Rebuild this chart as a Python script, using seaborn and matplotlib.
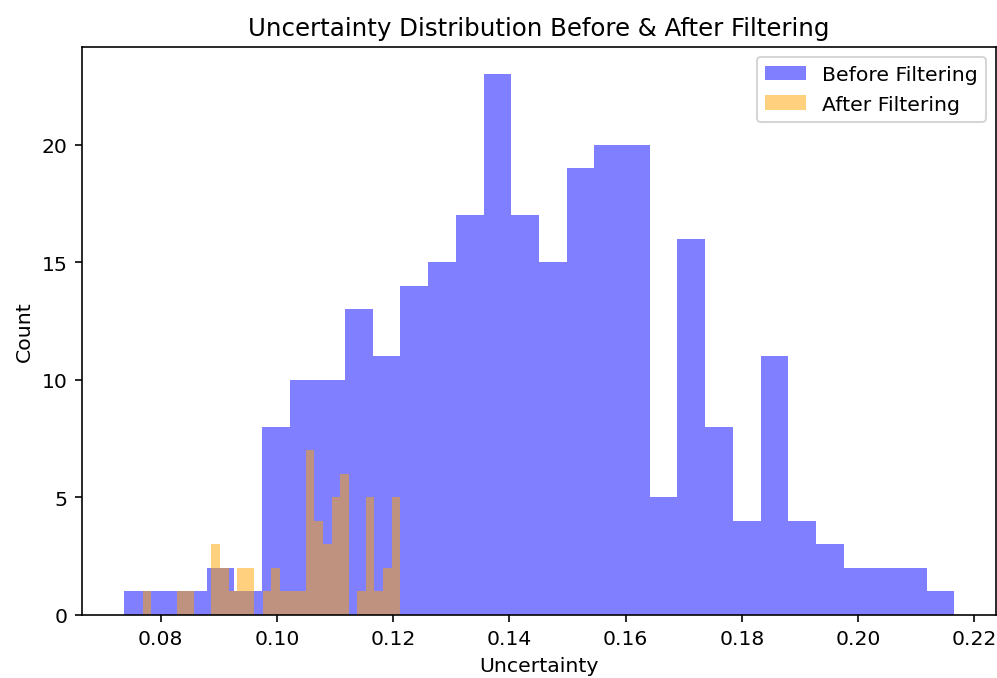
import numpy as np
import seaborn as sns
import matplotlib.pyplot as plt

# histogram counts (30 bins each)
before_counts = [1, 1, 1, 2, 1, 8, 10, 10, 13, 11,
                 14, 15, 17, 23, 17, 15, 19, 20, 20, 5,
                 16, 8, 4, 11, 4, 3, 2, 2, 2, 1]
before_range = (0.07359, 0.21656)

after_counts = [1, 0, 0, 0, 1, 1, 0, 0, 3, 2,
                1, 2, 2, 0, 1, 2, 1, 1, 1, 7,
                4, 3, 5, 6, 0, 1, 5, 1, 2, 5]
after_range = (0.0769, 0.1212)

DPI = 147


def bin_centers(rng, n):
    edges = np.linspace(rng[0], rng[1], n + 1)
    return (edges[:-1] + edges[1:]) / 2


def create_plot():
    fig, ax = plt.subplots(figsize=(997 / DPI, 679 / DPI), dpi=DPI)
    fig.subplots_adjust(left=0.0822, right=0.999, bottom=0.0928, top=0.9293)

    sns.histplot(x=bin_centers(before_range, len(before_counts)), weights=before_counts,
                 bins=len(before_counts), binrange=before_range,
                 color='blue', alpha=0.5, linewidth=0, label='Before Filtering', ax=ax)
    sns.histplot(x=bin_centers(after_range, len(after_counts)), weights=after_counts,
                 bins=len(after_counts), binrange=after_range,
                 color='orange', alpha=0.5, linewidth=0, label='After Filtering', ax=ax)

    ax.set_xlabel('Uncertainty')
    ax.set_ylabel('Count')
    ax.set_title('Uncertainty Distribution Before & After Filtering')
    ax.legend(loc='upper right')
    fig.savefig('out.png', dpi=DPI)


create_plot()
